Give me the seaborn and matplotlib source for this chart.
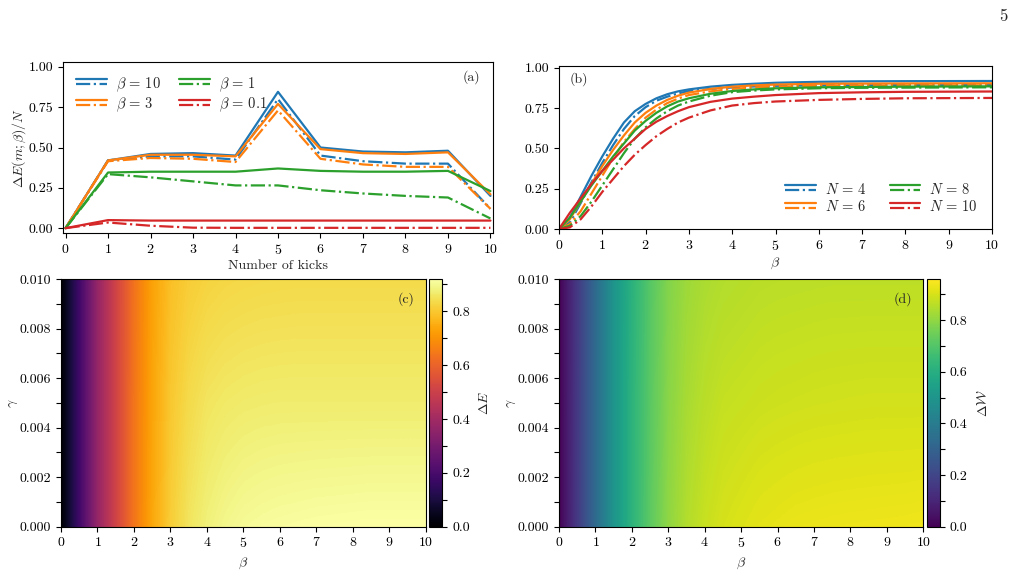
import numpy as np
import pandas as pd
import seaborn as sns
import matplotlib
matplotlib.use("Agg")
import matplotlib.pyplot as plt
from matplotlib.legend_handler import HandlerBase
from matplotlib.lines import Line2D
from matplotlib.ticker import MultipleLocator, FormatStrFormatter

# ---------------- data ----------------
kicks = [0, 1, 2, 3, 4, 5, 6, 7, 8, 9, 10]
a_b10_solid = [0, 0.42, 0.46, 0.465, 0.45, 0.845, 0.50, 0.475, 0.47, 0.48, 0.20]
a_b10_dash = [0, 0.42, 0.445, 0.445, 0.425, 0.80, 0.45, 0.415, 0.40, 0.40, 0.12]
a_b3_solid = [0, 0.42, 0.455, 0.455, 0.445, 0.77, 0.49, 0.465, 0.46, 0.47, 0.21]
a_b3_dash = [0, 0.415, 0.435, 0.43, 0.41, 0.73, 0.43, 0.395, 0.38, 0.38, 0.12]
a_b1_solid = [0, 0.345, 0.35, 0.35, 0.35, 0.37, 0.355, 0.35, 0.35, 0.355, 0.23]
a_b1_dash = [0, 0.335, 0.315, 0.29, 0.265, 0.265, 0.235, 0.215, 0.20, 0.19, 0.06]
a_b01_solid = [0, 0.05, 0.047, 0.047, 0.047, 0.047, 0.047, 0.047, 0.047, 0.047, 0.047]
a_b01_dash = [0, 0.035, 0.015, 0.003, 0.002, 0.002, 0.002, 0.002, 0.002, 0.002, 0.002]
a_labels = [r"$\beta\,=\,10$", r"$\beta\,=\,3$", r"$\beta\,=\,1$", r"$\beta\,=\,0.1$"]

beta_b = [0, 0.25, 0.5, 0.75, 1, 1.25, 1.5, 1.75, 2, 2.25, 2.5, 2.75, 3, 3.5, 4, 4.5, 5, 6, 7, 8, 10]
b_n4_solid = [0, 0.07, 0.20, 0.33, 0.45, 0.56, 0.66, 0.73, 0.775, 0.81, 0.835, 0.853, 0.865, 0.882, 0.893, 0.90, 0.906, 0.912, 0.915, 0.916, 0.917]
b_n4_dash = [0, 0.04, 0.16, 0.29, 0.41, 0.52, 0.62, 0.70, 0.755, 0.795, 0.82, 0.84, 0.855, 0.868, 0.877, 0.883, 0.887, 0.89, 0.891, 0.892, 0.893]
b_n6_solid = [0, 0.06, 0.17, 0.28, 0.39, 0.49, 0.58, 0.66, 0.72, 0.765, 0.80, 0.826, 0.845, 0.868, 0.882, 0.89, 0.895, 0.90, 0.901, 0.902, 0.903]
b_n6_dash = [0, 0.03, 0.11, 0.22, 0.33, 0.44, 0.54, 0.62, 0.69, 0.74, 0.78, 0.808, 0.83, 0.853, 0.868, 0.877, 0.882, 0.887, 0.889, 0.89, 0.89]
b_n8_solid = [0, 0.07, 0.17, 0.27, 0.36, 0.45, 0.53, 0.61, 0.67, 0.72, 0.76, 0.79, 0.81, 0.838, 0.855, 0.865, 0.872, 0.878, 0.88, 0.882, 0.884]
b_n8_dash = [0, 0.02, 0.08, 0.17, 0.27, 0.37, 0.47, 0.56, 0.63, 0.685, 0.73, 0.765, 0.79, 0.826, 0.848, 0.858, 0.865, 0.872, 0.875, 0.876, 0.878]
b_n10_solid = [0, 0.10, 0.19, 0.28, 0.36, 0.43, 0.50, 0.56, 0.62, 0.665, 0.70, 0.73, 0.755, 0.788, 0.808, 0.82, 0.83, 0.842, 0.847, 0.85, 0.852]
b_n10_dash = [0, 0.01, 0.06, 0.14, 0.23, 0.31, 0.39, 0.46, 0.52, 0.575, 0.62, 0.66, 0.69, 0.735, 0.765, 0.78, 0.79, 0.80, 0.806, 0.81, 0.812]
b_labels = [r"$N\,=\,4$", r"$N\,=\,6$", r"$N\,=\,8$", r"$N\,=\,10$"]

beta_grid = [0, 0.5, 1, 1.5, 2, 2.5, 3, 3.5, 4, 4.5, 5, 5.5, 6, 6.5, 7, 7.5, 8, 8.5, 9, 9.5, 10]
gamma_grid = [0.0, 0.005, 0.01]
dE_g0 = [0, 0.18, 0.37, 0.51, 0.64, 0.74, 0.81, 0.855, 0.88, 0.895, 0.905, 0.91, 0.913, 0.915, 0.917, 0.918, 0.919, 0.92, 0.92, 0.92, 0.92]
dE_g5 = [0, 0.18, 0.37, 0.51, 0.64, 0.735, 0.80, 0.835, 0.855, 0.863, 0.867, 0.869, 0.87, 0.87, 0.87, 0.87, 0.87, 0.87, 0.87, 0.87, 0.87]
dE_g10 = [0, 0.18, 0.37, 0.51, 0.635, 0.73, 0.785, 0.81, 0.822, 0.828, 0.831, 0.833, 0.834, 0.835, 0.835, 0.835, 0.835, 0.835, 0.835, 0.835, 0.835]
dW_g0 = [0, 0.16, 0.33, 0.50, 0.62, 0.72, 0.80, 0.85, 0.88, 0.90, 0.91, 0.92, 0.925, 0.93, 0.932, 0.934, 0.935, 0.936, 0.937, 0.938, 0.94]
dW_g5 = [0, 0.16, 0.33, 0.50, 0.62, 0.715, 0.79, 0.835, 0.86, 0.875, 0.88, 0.885, 0.888, 0.89, 0.892, 0.893, 0.894, 0.895, 0.895, 0.895, 0.895]
dW_g10 = [0, 0.16, 0.33, 0.50, 0.615, 0.71, 0.78, 0.82, 0.84, 0.85, 0.855, 0.86, 0.862, 0.863, 0.864, 0.865, 0.865, 0.865, 0.865, 0.865, 0.865]

colors = ["#1f77b4", "#ff7f0e", "#2ca02c", "#d62728"]

# ---------------- style ----------------
sns.set_theme(style="ticks")
plt.rcParams.update({
    "font.family": "serif",
    "font.serif": ["cmr10", "DejaVu Serif"],
    "mathtext.fontset": "cm",
    "axes.formatter.use_mathtext": True,
    "axes.unicode_minus": False,
    "font.size": 10,
    "axes.labelsize": 10,
    "xtick.labelsize": 10,
    "ytick.labelsize": 10,
    "legend.fontsize": 10.5,
    "axes.edgecolor": "black",
    "axes.linewidth": 0.8,
    "xtick.color": "black",
    "ytick.color": "black",
    "xtick.major.size": 3.5,
    "ytick.major.size": 3.5,
    "xtick.minor.size": 2,
    "ytick.minor.size": 2,
    "xtick.major.width": 0.8,
    "ytick.major.width": 0.8,
})


class StackedHandler(HandlerBase):
    def create_artists(self, legend, orig_handle, xdescent, ydescent,
                       width, height, fontsize, trans):
        yc = (height - ydescent) / 2.0
        arts = []
        for h, off in zip(orig_handle, (0.21 * fontsize, -0.15 * fontsize)):
            l = Line2D([-xdescent, width - xdescent], [yc + off, yc + off])
            l.update_from(h)
            l.set_transform(trans)
            arts.append(l)
        return arts


W, H = 1015, 584
fig = plt.figure(figsize=(W / 100, H / 100), dpi=100)


def box(l, t, r, b):
    return [l / W, 1 - b / H, (r - l) / W, (b - t) / H]


axA = fig.add_axes(box(63, 62, 493, 233))
axB = fig.add_axes(box(559, 66, 992, 229))
axC = fig.add_axes(box(61, 279, 425.7, 526.7))
caxC = fig.add_axes(box(429, 279, 442.3, 526.7))
axD = fig.add_axes(box(559, 279, 923.3, 526.7))
caxD = fig.add_axes(box(927.3, 279, 940, 526.7))

lw = 1.6

# ---------------- panel (a) ----------------
a_series = [(a_b10_solid, a_b10_dash), (a_b3_solid, a_b3_dash),
            (a_b1_solid, a_b1_dash), (a_b01_solid, a_b01_dash)]
handles = []
for (s, d), c in zip(a_series, colors):
    sns.lineplot(x=kicks, y=s, ax=axA, color=c, lw=lw, linestyle="-")
    sns.lineplot(x=kicks, y=d, ax=axA, color=c, lw=lw, linestyle="-.")
    handles.append((Line2D([], [], color=c, lw=lw, ls="-"),
                    Line2D([], [], color=c, lw=lw, ls="-.")))
axA.set_xlim(-0.06, 10.06)
axA.set_ylim(-0.03, 1.03)
axA.set_xticks(range(0, 11))
axA.set_yticks([0, 0.25, 0.5, 0.75, 1.0])
axA.yaxis.set_major_formatter(FormatStrFormatter("%.2f"))
axA.set_xlabel("Number of kicks", labelpad=2)
axA.set_ylabel(r"$\Delta E(m;\beta)/N$", labelpad=0)
axA.legend(handles, a_labels, handler_map={tuple: StackedHandler()},
           loc="upper left", ncol=2, frameon=False, handlelength=2.1,
           handleheight=1.0, labelspacing=0.15, columnspacing=1.3,
           borderaxespad=0.5, handletextpad=0.6)
axA.text(0.97, 0.91, "(a)", transform=axA.transAxes, ha="right", va="center")

# ---------------- panel (b) ----------------
b_series = [(b_n4_solid, b_n4_dash), (b_n6_solid, b_n6_dash),
            (b_n8_solid, b_n8_dash), (b_n10_solid, b_n10_dash)]
handles = []
for (s, d), c in zip(b_series, colors):
    sns.lineplot(x=beta_b, y=s, ax=axB, color=c, lw=lw, linestyle="-")
    sns.lineplot(x=beta_b, y=d, ax=axB, color=c, lw=lw, linestyle="-.")
    handles.append((Line2D([], [], color=c, lw=lw, ls="-"),
                    Line2D([], [], color=c, lw=lw, ls="-.")))
axB.set_xlim(0, 10)
axB.set_ylim(0, 1.01)
axB.set_xticks(range(0, 11))
axB.set_yticks([0, 0.25, 0.5, 0.75, 1.0])
axB.yaxis.set_major_formatter(FormatStrFormatter("%.2f"))
axB.set_xlabel(r"$\beta$", labelpad=2)
axB.legend(handles, b_labels, handler_map={tuple: StackedHandler()},
           loc="lower right", ncol=2, frameon=False, handlelength=2.1,
           handleheight=1.0, labelspacing=0.2, columnspacing=1.6,
           borderaxespad=0.6, handletextpad=0.6)
axB.text(0.025, 0.92, "(b)", transform=axB.transAxes, ha="left", va="center")

# ---------------- panels (c), (d) ----------------
def heat(ax, cax, rows, cmap, vmax, cblabel, tag):
    data = np.array(rows)
    db = beta_grid[1] - beta_grid[0]
    dg = gamma_grid[1] - gamma_grid[0]
    im = ax.imshow(data, origin="lower", aspect="auto", cmap=cmap,
                   vmin=0, vmax=vmax, interpolation="bilinear",
                   interpolation_stage="data",
                   extent=[beta_grid[0] - db / 2, beta_grid[-1] + db / 2,
                           gamma_grid[0] - dg / 2, gamma_grid[-1] + dg / 2])
    ax.set_xlim(0, 10)
    ax.set_ylim(0, 0.01)
    ax.set_xticks(range(0, 11))
    ax.set_yticks([0, 0.002, 0.004, 0.006, 0.008, 0.010])
    ax.yaxis.set_minor_locator(MultipleLocator(0.001))
    ax.yaxis.set_major_formatter(FormatStrFormatter("%.3f"))
    ax.tick_params(axis="y", which="minor", length=3.5, width=0.8)
    ax.set_xlabel(r"$\beta$", labelpad=4)
    ax.set_ylabel(r"$\gamma$", labelpad=0)
    ax.text(0.97, 0.92, tag, transform=ax.transAxes, ha="right", va="center")
    cb = fig.colorbar(im, cax=cax)
    cb.set_ticks([0, 0.2, 0.4, 0.6, 0.8])
    cb.ax.yaxis.set_major_formatter(FormatStrFormatter("%.1f"))
    cb.ax.yaxis.set_minor_locator(MultipleLocator(0.1))
    cb.ax.tick_params(which="minor", length=3.5, width=0.8)
    cb.outline.set_linewidth(0.8)
    cb.set_label(cblabel, labelpad=6)


heat(axC, caxC, [dE_g0, dE_g5, dE_g10], "inferno", 0.92, r"$\Delta E$", "(c)")
heat(axD, caxD, [dW_g0, dW_g5, dW_g10], "viridis", 0.96, r"$\Delta \mathcal{W}$", "(d)")

fig.text(1003 / W, 1 - 16 / H, "5", ha="center", va="center", fontsize=12)

fig.savefig("out.png", dpi=100)
